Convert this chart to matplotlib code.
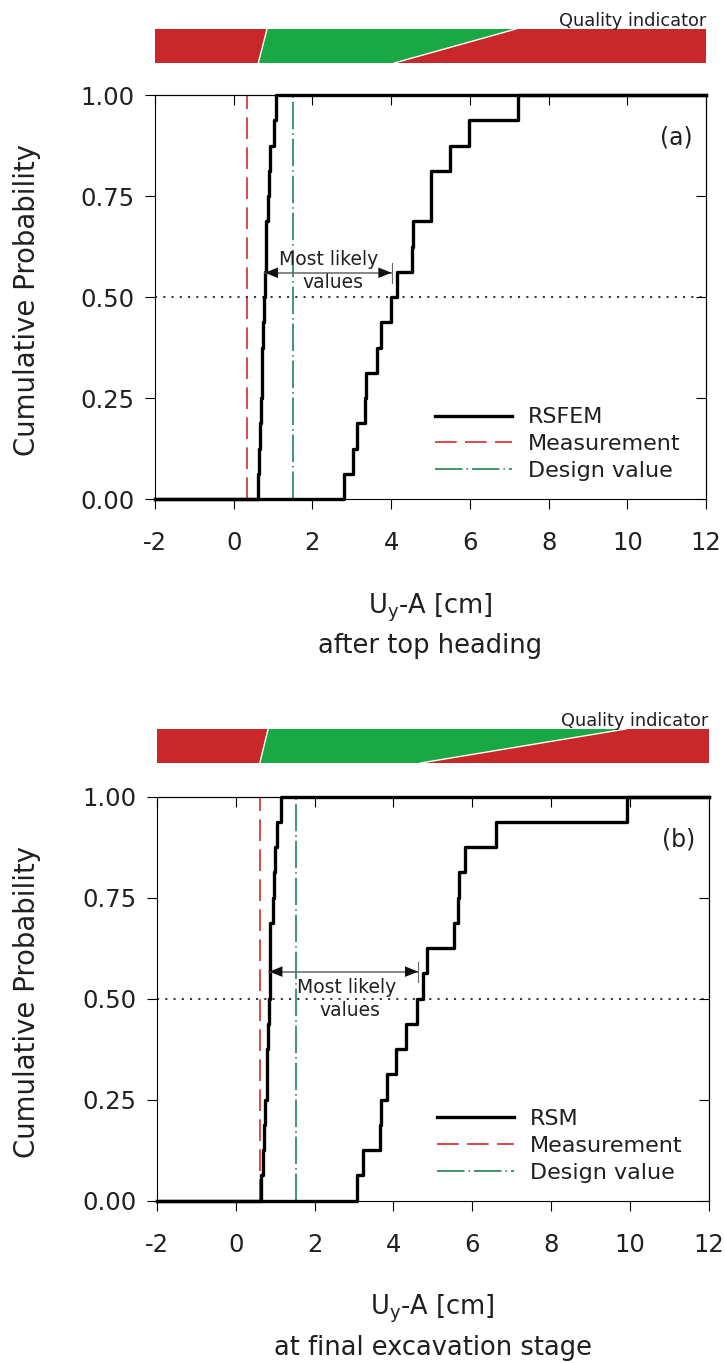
import numpy as np
import matplotlib
matplotlib.use("Agg")
import matplotlib.pyplot as plt
from matplotlib.ticker import FormatStrFormatter

# values (16 samples per curve)
left_a = [0.62, 0.63, 0.67, 0.69, 0.71, 0.73, 0.75, 0.77, 0.79, 0.81, 0.83, 0.86, 0.89, 0.92, 1.02, 1.07]
right_a = [2.81, 3.04, 3.14, 3.34, 3.35, 3.63, 3.73, 3.99, 4.14, 4.54, 4.56, 5.00, 5.01, 5.50, 5.98, 7.23]
left_b = [0.635, 0.68, 0.72, 0.75, 0.78, 0.80, 0.82, 0.845, 0.864, 0.875, 0.88, 0.95, 0.96, 0.99, 1.05, 1.16]
right_b = [3.08, 3.24, 3.67, 3.68, 3.85, 4.06, 4.31, 4.61, 4.74, 4.86, 5.54, 5.64, 5.66, 5.82, 6.60, 9.93]

measure_a, design_a = 0.34, 1.51
measure_b, design_b = 0.61, 1.54

# arrow "most likely values": start, end, level
likely_a = [0.79, 4.01, 0.56]
likely_b = [0.85, 4.63, 0.567]

# quality indicator boundaries: red/green bottom, top, green/red bottom, top
quality_a = [0.625, 0.846, 4.08, 7.17]
quality_b = [0.61, 0.82, 4.69, 9.90]

xticks = [-2, 0, 2, 4, 6, 8, 10, 12]
yticks = [0.0, 0.25, 0.5, 0.75, 1.0]

RED = "#d42a2a"
GREEN = "#1aa845"
TXT = "#231f20"

W, H = 725, 1363
plt.rcParams['font.family'] = ['DejaVu Sans']
plt.rcParams['axes.unicode_minus'] = False
fig = plt.figure(figsize=(W / 100, H / 100), dpi=100)


def ecdf(vals):
    x = np.concatenate([[-2], vals, [12]])
    y = np.concatenate([[0], np.arange(1, len(vals) + 1) / len(vals), [1]])
    return x, y


def quality_bar(rect, q):
    qa = fig.add_axes(rect)
    qa.set_xlim(-2, 12)
    qa.set_ylim(0, 1)
    qa.axis("off")
    qa.fill([-2, q[0], q[1], -2], [0, 0, 1, 1], color="#c8282a", lw=0)
    qa.fill([q[0], q[2], q[3], q[1]], [0, 0, 1, 1], color=GREEN, lw=0)
    qa.fill([q[2], 12, 12, q[3]], [0, 0, 1, 1], color="#c8282a", lw=0)
    qa.plot([q[0], q[1]], [0, 1], color="white", lw=1)
    qa.plot([q[2], q[3]], [0, 1], color="white", lw=1)
    qa.text(12, 1.08, "Quality indicator", ha="right", va="baseline",
            fontsize=12.8, color=TXT, clip_on=False)


def panel(rect, left, right, meas, design, likely, tag, name, lab_pos):
    ax = fig.add_axes(rect)
    for vals, lab in [(left, name), (right, None)]:
        x, y = ecdf(vals)
        ax.step(x, y, where="post", color="black", lw=2.4, label=lab, clip_on=False, zorder=4)
    ax.axvline(meas, color=RED, lw=1.2, ls=(0, (13, 5)), label="Measurement")
    ax.axvline(design, color="#0b7a45", lw=1.1, ls=(0, (18, 2.6, 1, 2.6)), label="Design value")
    ax.axhline(0.5, color="black", lw=1.1, ls=(0, (1.4, 4)))

    # double arrow: grey shaft, black heads, small end bars
    x0, x1, yl = likely
    ax.plot([x0, x1], [yl, yl], color="#666666", lw=1.1, zorder=5)
    for xa, xb in [(x0 + 0.5, x0), (x1 - 0.5, x1)]:
        ax.annotate("", xy=(xb, yl), xytext=(xa, yl),
                    arrowprops=dict(arrowstyle="-|>,head_length=0.95,head_width=0.38",
                                    color="#111111", lw=0, shrinkA=0, shrinkB=0), zorder=6)
    for xe in (x0, x1):
        ax.plot([xe, xe], [yl - 0.025, yl + 0.025], color="#666666", lw=0.8)
    ax.text(lab_pos[0], lab_pos[1], "Most likely", ha="center", va="center", fontsize=13.5, color=TXT)
    ax.text(lab_pos[2], lab_pos[3], "values", ha="center", va="center", fontsize=13.5, color=TXT)

    ax.text(11.67, 0.895, tag, ha="right", va="center", fontsize=17, color=TXT)

    ax.set_xlim(-2, 12)
    ax.set_ylim(0, 1)
    ax.set_xticks(xticks)
    ax.set_yticks(yticks)
    ax.yaxis.set_major_formatter(FormatStrFormatter("%.2f"))
    ax.tick_params(direction="out", length=7, width=0.8, labelsize=17.5, labelcolor=TXT)
    ax.tick_params(axis="x", pad=16)
    ax.tick_params(axis="y", pad=8)
    for s in ax.spines.values():
        s.set_linewidth(0.8)
    top = ax.secondary_xaxis("top")
    top.set_xticks(xticks)
    top.tick_params(direction="in", length=7, width=0.8, labeltop=False)
    rgt = ax.secondary_yaxis("right")
    rgt.set_yticks(yticks)
    rgt.tick_params(direction="in", length=7, width=0.8, labelright=False)

    ax.legend(loc="lower left", bbox_to_anchor=(0.508, 0.045), frameon=False, fontsize=16,
              handlelength=3.45, handletextpad=0.72, labelspacing=0.3,
              borderpad=0, borderaxespad=0, labelcolor=TXT)
    return ax


ax_a = panel([155 / W, (H - 499) / H, 551 / W, 404 / H], left_a, right_a,
             measure_a, design_a, likely_a, "(a)", "RSFEM", [2.42, 0.594, 2.51, 0.535])
ax_b = panel([157 / W, (H - 1200.7) / H, 551.5 / W, 404 / H], left_b, right_b,
             measure_b, design_b, likely_b, "(b)", "RSM", [2.81, 0.528, 2.89, 0.47])

quality_bar([155 / W, (H - 63) / H, 551 / W, 34 / H], quality_a)
quality_bar([157 / W, (H - 763) / H, 551.5 / W, 34 / H], quality_b)

# y labels and two-line x labels
for yc in [(H - 300) / H, (H - 1001.7) / H]:
    fig.text(27 / W, yc, "Cumulative Probability", rotation=90, ha="center", va="center",
             fontsize=19.8, color=TXT)
fig.text(430.5 / W, (H - 613) / H, r"U$_\mathregular{y}$-A [cm]", ha="center", va="baseline",
         fontsize=18.5, color=TXT)
fig.text(430.5 / W, (H - 653) / H, "after top heading", ha="center", va="baseline",
         fontsize=18.5, color=TXT)
fig.text(432.8 / W, (H - 1314.7) / H, r"U$_\mathregular{y}$-A [cm]", ha="center", va="baseline",
         fontsize=18.5, color=TXT)
fig.text(432.8 / W, (H - 1354.7) / H, "at final excavation stage", ha="center", va="baseline",
         fontsize=18.5, color=TXT)

fig.savefig("out.png", dpi=100)
